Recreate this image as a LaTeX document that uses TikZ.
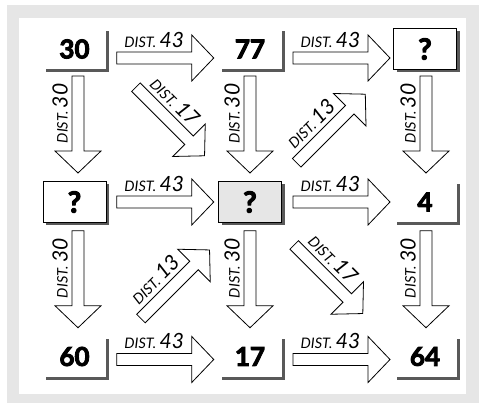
\documentclass[tikz,border=0pt]{standalone}
\usepackage{fontspec}
\setmainfont{Lato}
\newfontfamily\numfont{Lato}[BoldFeatures={FakeBold=3.5}]
\usetikzlibrary{calc,shadows}
\definecolor{framegray}{HTML}{E6E6E6}

% hollow block arrow between two grid nodes, with its distance label
\newcommand\distarrow[6]{%
  \coordinate (m) at ($(#1)!.5!(#2)+(#3)$);
  \begin{scope}[shift={(m)},#4]
    \draw[arrowbody] (-48.5,-6) -- (26.5,-6) -- (26.5,-23) -- (48.5,0)
      -- (26.5,23) -- (26.5,6) -- (-48.5,6) -- cycle;
    \node[dist,rotate=#5] at (-11,10.5) {DIST.\ {\fontsize{21}{21}\selectfont #6}};
  \end{scope}}

\begin{document}
\begin{tikzpicture}[x=1pt,y=1pt,
  numbox/.style={minimum width=63pt,minimum height=41pt,inner sep=0pt,fill=white,
    font=\numfont\bfseries\fontsize{26}{26}\selectfont,
    drop shadow={shadow xshift=3pt,shadow yshift=-3pt,fill=black!65,opacity=1}},
  askbox/.style={numbox,draw=black,line width=0.8pt,
    font=\numfont\bfseries\fontsize{29}{29}\selectfont},
  arrowbody/.style={draw=black,fill=white,line width=0.8pt,line join=miter},
  dist/.style={anchor=base,inner sep=0pt,font=\itshape\fontsize{14.5}{14.5}\selectfont}
]
\useasboundingbox (0,0) rectangle (479,403);
\fill[white] (0,0) rectangle (479,403);
\fill[framegray] (7,0) rectangle (479,398);
\fill[white] (19,9) rectangle (466,385);

% grid of values
\node[numbox] (n30) at (74.5,354) {30};
\node[numbox] (n77) at (250,354) {77};
\node[askbox] (q1)  at (425,354) {?};
\node[askbox] (q2)  at (74.5,201) {?};
\node[askbox,fill=framegray] (qc) at (250,201) {?};
\node[numbox] (n4)  at (425,201) {4};
\node[numbox] (n60) at (74.5,46.5) {60};
\node[numbox] (n17) at (250,46.5) {17};
\node[numbox] (n64) at (425,46.5) {64};

% across
\distarrow{n30}{n77}{3,-9}{}{0}{43}
\distarrow{n77}{q1}{4,-9}{}{0}{43}
\distarrow{q2}{qc}{3,0}{}{0}{43}
\distarrow{qc}{n4}{4,0}{}{0}{43}
\distarrow{n60}{n17}{3,-3}{}{0}{43}
\distarrow{n17}{n64}{4,-3}{}{0}{43}
% down
\distarrow{n30}{q2}{3.5,1}{rotate=-90,yscale=-1}{90}{30}
\distarrow{n77}{qc}{0,1}{rotate=-90,yscale=-1}{90}{30}
\distarrow{q1}{n4}{1,1}{rotate=-90,yscale=-1}{90}{30}
\distarrow{q2}{n60}{3.5,0}{rotate=-90,yscale=-1}{90}{30}
\distarrow{qc}{n17}{0,0}{rotate=-90,yscale=-1}{90}{30}
\distarrow{n4}{n64}{1,0}{rotate=-90,yscale=-1}{90}{30}
% diagonals
\distarrow{n30}{qc}{8,4}{rotate=-45}{-45}{17}
\distarrow{qc}{q1}{-6.5,-3}{rotate=45}{45}{13}
\distarrow{n60}{qc}{13,-5}{rotate=45}{45}{13}
\distarrow{qc}{n64}{-9,0}{rotate=-45}{-45}{17}
\end{tikzpicture}
\end{document}
